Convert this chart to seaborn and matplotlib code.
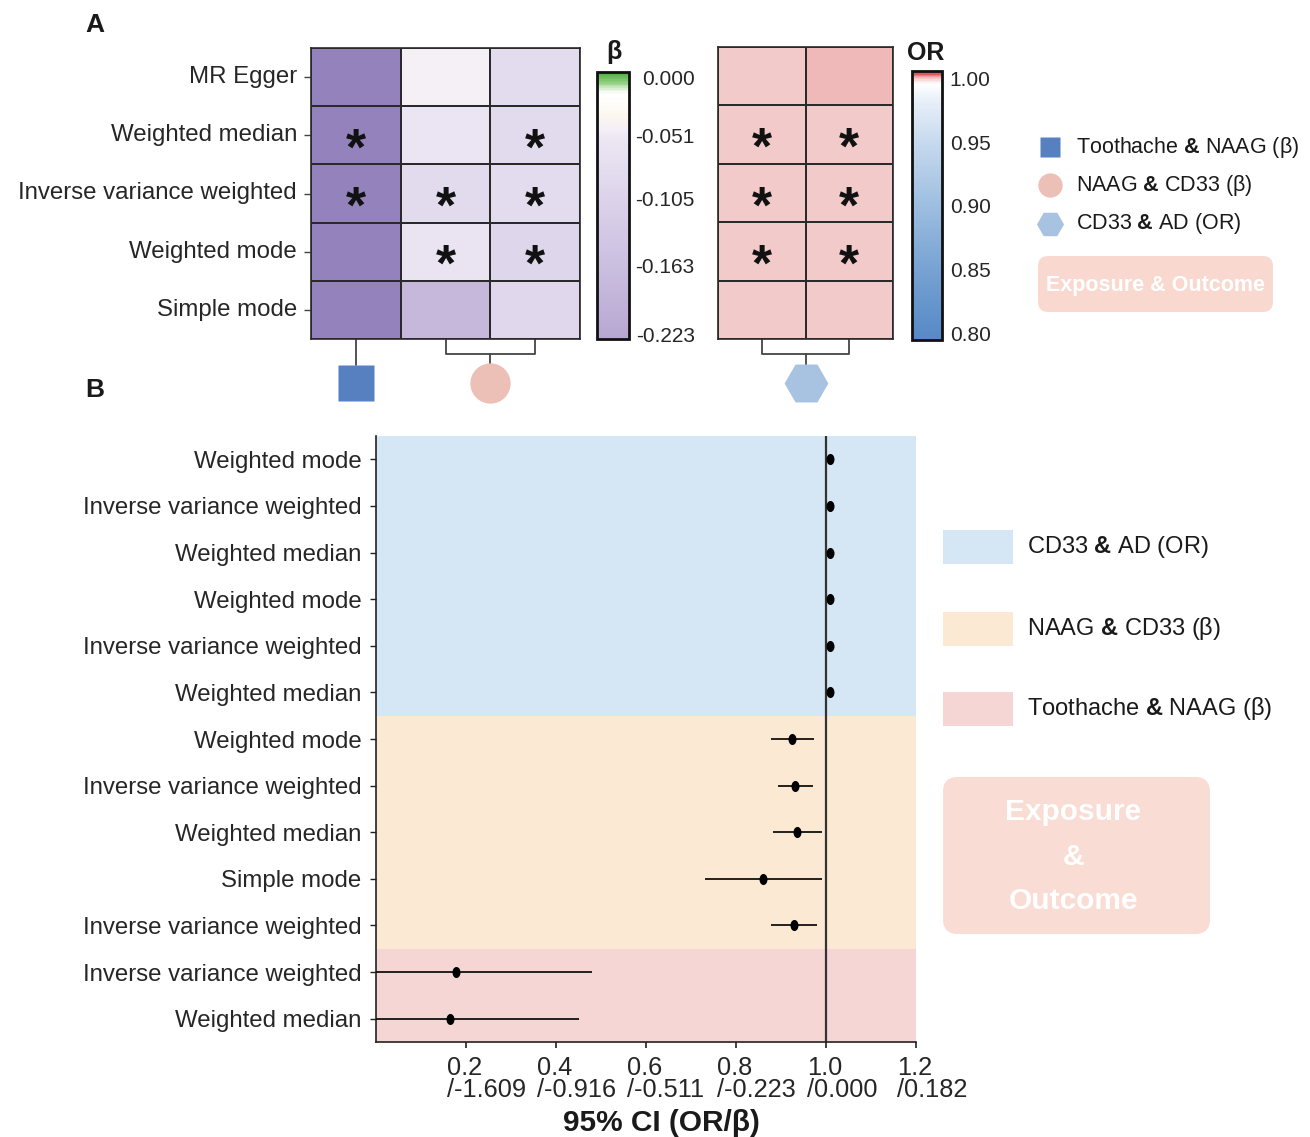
import numpy as np
import pandas as pd
import matplotlib
matplotlib.use("Agg")
import matplotlib.pyplot as plt
import seaborn as sns
from matplotlib.colors import LinearSegmentedColormap
from matplotlib.patches import FancyBboxPatch
from matplotlib.path import Path
from matplotlib.transforms import Affine2D, ScaledTranslation

# ---------------- data ----------------
methods = ["MR Egger", "Weighted median", "Inverse variance weighted",
           "Weighted mode", "Simple mode"]

# beta heatmap (exposure -> outcome estimates)
beta_toothache_naag = [-1.20, -1.80, -1.73, -1.50, -1.60]
beta_naag_cd33_a = [-0.045, -0.058, -0.088, -0.065, -0.182]
beta_naag_cd33_b = [-0.082, -0.085, -0.083, -0.098, -0.094]
beta_sig = [[0, 0, 0], [1, 0, 1], [1, 1, 1], [0, 1, 1], [0, 0, 0]]

# OR heatmap
or_cd33_ad_a = [1.0003, 1.0002, 0.9999, 1.0002, 1.0004]
or_cd33_ad_b = [1.0012, 1.0001, 1.0000, 1.0003, 1.0002]
or_sig = [[0, 0], [1, 1], [1, 1], [1, 1], [0, 0]]

beta_ticks = [0.000, -0.051, -0.105, -0.163, -0.223]
or_ticks = [0.80, 0.85, 0.90, 0.95, 1.00]

# forest plot rows, top to bottom
forest_methods = ["Weighted mode", "Inverse variance weighted", "Weighted median",
                  "Weighted mode", "Inverse variance weighted", "Weighted median",
                  "Weighted mode", "Inverse variance weighted", "Weighted median",
                  "Simple mode", "Inverse variance weighted",
                  "Inverse variance weighted", "Weighted median"]
forest_group = ["CD33 & AD"] * 6 + ["NAAG & CD33"] * 5 + ["Toothache & NAAG"] * 2
forest_est = [1.009, 1.008, 1.008, 1.008, 1.008, 1.008,
              0.925, 0.932, 0.936, 0.859, 0.929, 0.178, 0.165]
forest_lo = [1.005, 1.004, 1.004, 1.004, 1.004, 1.004,
             0.877, 0.893, 0.883, 0.732, 0.877, 0.000, 0.000]
forest_hi = [1.013, 1.012, 1.012, 1.012, 1.012, 1.012,
             0.973, 0.972, 0.990, 0.990, 0.981, 0.480, 0.451]
forest_xticks = [0.2, 0.4, 0.6, 0.8, 1.0, 1.2]

# ---------------- style ----------------
sns.set_theme(style="ticks")
plt.rcParams["font.family"] = ["Liberation Sans", "DejaVu Sans"]
plt.rcParams["mathtext.fontset"] = "custom"
plt.rcParams["mathtext.rm"] = "Liberation Sans"
plt.rcParams["mathtext.bf"] = "Liberation Sans:bold"
plt.rcParams["text.color"] = "#1a1a1a"

W, H = 1310, 1137
fig = plt.figure(figsize=(W / 100, H / 100), dpi=100)


def px_axes(x0, y0, x1, y1):
    return fig.add_axes([x0 / W, 1 - y1 / H, (x1 - x0) / W, (y1 - y0) / H])


def value_cmap(name, vmin, vmax, nodes):
    return LinearSegmentedColormap.from_list(
        name, [((v - vmin) / (vmax - vmin), c) for v, c in nodes])


b_vmin, b_vmax = -0.32, 0.0044
beta_cmap = value_cmap("beta", b_vmin, b_vmax, [
    (-0.32, "#9482bd"), (-0.227, "#b6a7d1"), (-0.163, "#cbbfe0"),
    (-0.105, "#dcd3ea"), (-0.051, "#ede8f4"), (-0.045, "#f3eff7"),
    (-0.033, "#fcf6ee"), (-0.024, "#fffdf9"), (-0.014, "#ffffff"),
    (-0.011, "#eef8eb"), (-0.005, "#97d288"), (0.0044, "#4caf3c")])

o_vmin, o_vmax = 0.7945, 1.0062
or_cmap = value_cmap("or", o_vmin, o_vmax, [
    (0.7945, "#5689c6"), (0.85, "#77a2d2"), (0.90, "#9dbee0"),
    (0.95, "#c6d9ee"), (0.985, "#eaf1f9"), (0.9965, "#ffffff"),
    (0.9985, "#fbeeee"), (1.000, "#f5d2d2"), (1.0015, "#efb3b3"),
    (1.003, "#e57a80"), (1.0062, "#d4333c")])

grid_kw = dict(linewidths=1.2, linecolor="#2a2a2a")

# ---------------- panel A: beta heatmap ----------------
beta_df = pd.DataFrame({"Toothache & NAAG": beta_toothache_naag,
                        "NAAG & CD33 a": beta_naag_cd33_a,
                        "NAAG & CD33 b": beta_naag_cd33_b}, index=methods)
ax1 = px_axes(311, 48, 580, 339)
sns.heatmap(beta_df, ax=ax1, cmap=beta_cmap, vmin=b_vmin, vmax=b_vmax,
            cbar=False, xticklabels=False, yticklabels=True, **grid_kw)
ax1.tick_params(axis="y", left=True, length=5, width=1, color="#444",
                pad=5, labelsize=17.3, rotation=0)
for s in ax1.spines.values():
    s.set_visible(True)
    s.set_linewidth(1.2)
    s.set_color("#2a2a2a")
for i in range(5):
    for j in range(3):
        if beta_sig[i][j]:
            ax1.text(j + 0.5, i + 0.77, "*", ha="center", va="center",
                     fontsize=37, fontweight="bold", color="#111")

cax1 = px_axes(597, 72, 629, 339)
cb1 = fig.colorbar(ax1.collections[0], cax=cax1,
                   boundaries=np.linspace(-0.227, b_vmax, 300))
cb1.set_ticks(beta_ticks, labels=[f"{t:.3f}".replace("\u2212", "-") for t in beta_ticks])
cb1.outline.set_linewidth(2)
cb1.outline.set_edgecolor("#111")
cax1.tick_params(direction="in", length=5, width=1.6, color="#222",
                 pad=2, labelsize=15)
shift_b = ScaledTranslation(63 / 100, 0, fig.dpi_scale_trans)
for lab in cax1.get_yticklabels():
    lab.set_horizontalalignment("right")
    lab.set_transform(lab.get_transform() + shift_b)
fig.text(614 / W, 1 - 52 / H, "β", fontsize=18, fontweight="bold",
         ha="center", va="center")

# ---------------- panel A: OR heatmap ----------------
or_df = pd.DataFrame({"CD33 & AD a": or_cd33_ad_a,
                      "CD33 & AD b": or_cd33_ad_b}, index=methods)
ax2 = px_axes(718, 47, 893, 339)
sns.heatmap(or_df, ax=ax2, cmap=or_cmap, vmin=o_vmin, vmax=o_vmax,
            cbar=False, xticklabels=False, yticklabels=False, **grid_kw)
for s in ax2.spines.values():
    s.set_visible(True)
    s.set_linewidth(1.2)
    s.set_color("#2a2a2a")
for i in range(5):
    for j in range(2):
        if or_sig[i][j]:
            ax2.text(j + 0.5, i + 0.77, "*", ha="center", va="center",
                     fontsize=37, fontweight="bold", color="#111")

cax2 = px_axes(912, 71, 942, 340)
cb2 = fig.colorbar(ax2.collections[0], cax=cax2,
                   boundaries=np.linspace(o_vmin, o_vmax, 300))
cb2.set_ticks(or_ticks, labels=[f"{t:.2f}" for t in or_ticks])
cb2.outline.set_linewidth(2)
cb2.outline.set_edgecolor("#111")
cax2.tick_params(direction="in", length=5, width=1.6, color="#222",
                 pad=5.5, labelsize=15)
fig.text(926 / W, 1 - 53 / H, "OR", fontsize=18, fontweight="bold",
         ha="center", va="center")

# dendrogram-style brackets and group symbols under the heatmaps
line_kw = dict(color="#444", lw=1.3, clip_on=False)
sq_c, ci_c, hx_c = "#5680c0", "#ecbfb7", "#a8c2e1"
y_br, y_stem, y_sym = 5.26, 5.45, 5.76
ax1.plot([0.5, 0.5], [5, y_stem], **line_kw)
ax1.plot([1.5, 1.5, 2.5, 2.5], [5, y_br, y_br, 5], **line_kw)
ax1.plot([2.0, 2.0], [y_br, y_stem], **line_kw)
ax1.plot([0.5], [y_sym], marker="s", ms=26, color=sq_c, mec="none", clip_on=False)
ax1.plot([2.0], [y_sym], marker="o", ms=29, color=ci_c, mec="none", clip_on=False)
ax2.plot([0.5, 0.5, 1.5, 1.5], [5, y_br, y_br, 5], **line_kw)
ax2.plot([1.0, 1.0], [y_br, y_stem], **line_kw)
ax2.plot([1.0], [y_sym], marker="H", ms=31.5, color=hx_c, mec="none", clip_on=False)

# ---------------- panel B: forest plot ----------------
n = len(forest_est)
forest_df = pd.DataFrame({"method": forest_methods, "group": forest_group,
                          "est": forest_est, "lo": forest_lo, "hi": forest_hi})
forest_df["y"] = np.arange(n)[::-1]

band_colors = {"CD33 & AD": "#d5e6f5", "NAAG & CD33": "#fbe9d4",
               "Toothache & NAAG": "#f5d6d5"}

ax3 = px_axes(376, 436, 916, 1042)
for g, sub in forest_df.groupby("group", sort=False):
    ax3.axhspan(sub["y"].min() - 0.5, sub["y"].max() + 0.5,
                color=band_colors[g], lw=0, zorder=0)
ax3.axvline(1.0, color="#333", lw=1.6, zorder=2)
ax3.hlines(forest_df["y"], forest_df["lo"], forest_df["hi"],
           color="#111", lw=1.3, zorder=3)
dot = Path.unit_circle().transformed(Affine2D().scale(0.72, 1.0))
sns.scatterplot(data=forest_df, x="est", y="y", ax=ax3, marker=dot, s=64,
                color="black", edgecolor="black", linewidth=0, zorder=4,
                legend=False)
ax3.set_xlim(0, 1.2)
ax3.set_ylim(-0.5, n - 0.5)
ax3.set_yticks(forest_df["y"], labels=forest_df["method"])
ax3.set_xticks(forest_xticks,
               labels=[f"{t:.1f}\n/{np.log(t):.3f}".replace("\u2212", "-")
                       for t in forest_xticks])
ax3.set_xlabel("")
ax3.set_ylabel("")
ax3.tick_params(axis="y", length=4.5, width=1, color="#222", pad=6,
                labelsize=17.3)
ax3.tick_params(axis="x", length=4, width=1.2, color="#222", pad=6,
                labelsize=18.3)
offset = ScaledTranslation(-19 / 100, 0, fig.dpi_scale_trans)
for lab in ax3.get_xticklabels():
    lab.set_horizontalalignment("left")
    lab.set_multialignment("left")
    lab.set_linespacing(0.92)
    lab.set_transform(lab.get_transform() + offset)
sns.despine(ax=ax3, top=True, right=True)
for side in ("left", "bottom"):
    ax3.spines[side].set_linewidth(1.2)
    ax3.spines[side].set_color("#222")

fig.text(661 / W, 1 - 1123 / H, "95% CI (OR/β)", fontsize=21.5,
         fontweight="bold", ha="center", va="center")

# ---------------- panel letters ----------------
fig.text(95 / W, 1 - 25 / H, "A", fontsize=19, fontweight="bold",
         ha="center", va="center")
fig.text(95 / W, 1 - 390 / H, "B", fontsize=19, fontweight="bold",
         ha="center", va="center")

# ---------------- legends (pixel-space overlay) ----------------
ov = fig.add_axes([0, 0, 1, 1])
ov.set_xlim(0, W)
ov.set_ylim(H, 0)
ov.set_axis_off()

amp = r"$\mathbf{&}$"
legA = [("s", 14.5, sq_c, f"Toothache {amp} NAAG (β)", 147),
        ("o", 17.5, ci_c, f"NAAG {amp} CD33 (β)", 185),
        ("H", 19.5, hx_c, f"CD33 {amp} AD (OR)", 224)]
for mk, ms, col, txt, yy in legA:
    ov.plot([1050], [yy], marker=mk, ms=ms, color=col, mec="none")
    ov.text(1076, yy, txt, fontsize=15.5, ha="left", va="center")
ov.add_patch(FancyBboxPatch((1038, 256), 235, 56,
                            boxstyle="round,pad=0,rounding_size=10",
                            fc="#f9d9cf", ec="none"))
ov.text(1156, 285, "Exposure & Outcome", fontsize=15.5, fontweight="bold",
        color="white", ha="center", va="center")

legB = [("CD33 & AD", f"CD33 {amp} AD (OR)", 547),
        ("NAAG & CD33", f"NAAG {amp} CD33 (β)", 629),
        ("Toothache & NAAG", f"Toothache {amp} NAAG (β)", 709)]
for g, txt, yy in legB:
    ov.add_patch(plt.Rectangle((943, yy - 17), 70, 34, fc=band_colors[g], ec="none"))
    ov.text(1027, yy, txt, fontsize=17, ha="left", va="center")
ov.add_patch(FancyBboxPatch((943, 777), 267, 157,
                            boxstyle="round,pad=0,rounding_size=15",
                            fc="#f9dcd3", ec="none"))
for txt, yy in (("Exposure", 812), ("&", 857), ("Outcome", 901)):
    ov.text(1073, yy, txt, fontsize=21.5, fontweight="bold",
            color="white", ha="center", va="center")

fig.savefig("out.png", dpi=100, facecolor="white")
